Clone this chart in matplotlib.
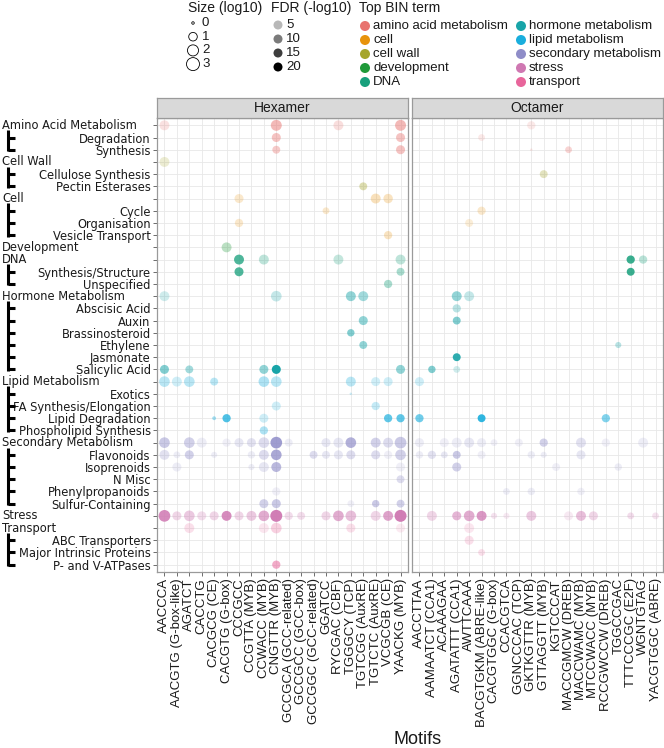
import matplotlib
matplotlib.use('Agg')
import matplotlib.pyplot as plt
import numpy as np
from matplotlib.lines import Line2D

terms = ["Amino Acid Metabolism", "Degradation", "Synthesis",
         "Cell Wall", "Cellulose Synthesis", "Pectin Esterases",
         "Cell", "Cycle", "Organisation", "Vesicle Transport",
         "Development",
         "DNA", "Synthesis/Structure", "Unspecified",
         "Hormone Metabolism", "Abscisic Acid", "Auxin", "Brassinosteroid",
         "Ethylene", "Jasmonate", "Salicylic Acid",
         "Lipid Metabolism", "Exotics", "FA Synthesis/Elongation",
         "Lipid Degradation", "Phospholipid Synthesis",
         "Secondary Metabolism", "Flavonoids", "Isoprenoids", "N Misc",
         "Phenylpropanoids", "Sulfur-Containing",
         "Stress",
         "Transport", "ABC Transporters", "Major Intrinsic Proteins",
         "P- and V-ATPases"]

# rows that are top level BIN terms, and the BIN they colour
parent_rows = [0, 3, 6, 10, 11, 14, 21, 26, 32, 33]
parent_bins = ["amino acid metabolism", "cell wall", "cell", "development", "DNA",
               "hormone metabolism", "lipid metabolism", "secondary metabolism",
               "stress", "transport"]

hexamer_motifs = ["AACCCA", "AACGTG (G-box-like)", "AGATCT", "CACCTG", "CACGCG (CE)",
                  "CACGTG (G-box)", "CCCGCC", "CCGTTA (MYB)", "CCWACC (MYB)",
                  "CNGTTR (MYB)", "GCCGCA (GCC-related)", "GCCGCC (GCC-box)",
                  "GCCGGC (GCC-related)", "GGATCC", "RYCGAC (CBF)", "TGGGCY (TCP)",
                  "TGTCGG (AuxRE)", "TGTCTC (AuxRE)", "VCGCGB (CE)", "YAACKG (MYB)"]

octamer_motifs = ["AACCTTAA", "AAMAATCT (CCA1)", "ACAAAGAA", "AGATATTT (CCA1)",
                  "AWTTCAAA", "BACGTGKM (ABRE-like)", "CACGTGGC (G-box)", "CCACGTCA",
                  "GGNCCCAC (TCP)", "GKTKGTTR (MYB)", "GTTAGGTT (MYB)", "KGTCCCAT",
                  "MACCGMCW (DREB)", "MACCWAMC (MYB)", "MTCCWACC (MYB)",
                  "RCCGWCCW (DREB)", "TGGCCGAC", "TTTCCCGC (E2F)", "WGNTGTAG",
                  "YACGTGGC (ABRE)"]

bin_terms = ["amino acid metabolism", "cell", "cell wall", "development", "DNA",
             "hormone metabolism", "lipid metabolism", "secondary metabolism",
             "stress", "transport"]
bin_colors = ["#E8736F", "#E8930C", "#A5A52B", "#1F9A3A", "#18A07C",
              "#18A4A8", "#19AEDD", "#8F8DC8", "#CF78B2", "#E8659B"]

# (term row, motif index, size log10, FDR -log10)
hexamer_points = [
    (0, 0, 1.5, 3.5), (0, 9, 1.95, 9.5), (0, 14, 1.5, 4), (0, 19, 1.95, 9.5),
    (1, 9, 1.15, 8), (1, 19, 1.15, 8),
    (2, 9, 0.8, 7), (2, 19, 1.15, 8),
    (3, 0, 1.5, 3.5),
    (5, 16, 0.8, 7),
    (6, 6, 1.15, 3.5), (6, 17, 1.5, 5), (6, 18, 1.3, 4.5),
    (7, 13, 0.5, 3.5),
    (8, 6, 0.9, 3.5),
    (9, 18, 0.9, 4.5),
    (10, 5, 1.5, 5.5),
    (11, 6, 1.5, 15), (11, 8, 1.5, 5), (11, 14, 1.5, 4.5), (11, 19, 1.5, 5),
    (12, 6, 1.15, 15), (12, 19, 0.8, 7),
    (13, 18, 0.9, 7),
    (14, 0, 1.5, 3.5), (14, 9, 1.8, 4.5), (14, 15, 1.5, 9), (14, 16, 1.5, 7.5),
    (16, 16, 1.15, 9), (17, 15, 0.65, 10.5), (18, 16, 0.8, 9),
    (20, 0, 1.15, 10.5), (20, 2, 0.8, 7.5), (20, 8, 1.15, 9), (20, 9, 1.15, 20),
    (20, 19, 1.15, 9),
    (21, 0, 1.8, 5.5), (21, 1, 1.5, 3.5), (21, 2, 1.8, 5.5), (21, 4, 0.8, 5.5),
    (21, 8, 1.8, 6.5), (21, 9, 1.8, 5.5), (21, 15, 1.5, 5.5), (21, 17, 1.15, 3.5),
    (21, 18, 1.15, 3.5),
    (22, 15, 0.0, 3.5),
    (23, 9, 1.15, 3.5), (23, 17, 0.9, 4.5),
    (24, 4, 0.05, 7.5), (24, 5, 0.9, 15), (24, 8, 1.15, 3.5), (24, 18, 0.9, 13.5),
    (24, 19, 0.9, 13.5),
    (25, 8, 0.9, 6.5),
    (26, 0, 1.8, 9), (26, 2, 1.8, 7.5), (26, 3, 1.5, 2.5), (26, 5, 0.9, 2),
    (26, 6, 1.15, 3.5), (26, 7, 1.15, 4.5), (26, 8, 1.8, 5.5), (26, 9, 2.3, 17),
    (26, 10, 0.8, 2.5), (26, 13, 1.15, 3.5), (26, 14, 1.5, 3.5), (26, 15, 1.8, 13.5),
    (26, 17, 1.5, 7.5), (26, 18, 1.5, 5.5), (26, 19, 2.3, 9),
    (27, 0, 1.5, 4.5), (27, 1, 0.5, 2.5), (27, 2, 1.15, 7.5), (27, 4, 0.35, 2.5),
    (27, 7, 0.65, 2.5), (27, 8, 1.5, 5.5), (27, 9, 1.8, 15), (27, 12, 0.8, 5.5),
    (27, 13, 0.8, 3.5), (27, 14, 1.15, 3.5), (27, 15, 1.15, 5.5), (27, 17, 1.15, 5.5),
    (27, 18, 0.9, 2), (27, 19, 1.8, 7.5),
    (28, 1, 1.15, 2.5), (28, 7, 0.35, 2.5), (28, 8, 1.5, 3.5), (28, 9, 1.5, 12),
    (28, 19, 1.15, 2),
    (29, 19, 0.8, 5.5),
    (30, 9, 0.9, 2),
    (31, 8, 1.15, 7.5), (31, 9, 1.15, 9), (31, 15, 0.5, 2), (31, 17, 0.65, 9),
    (31, 19, 0.8, 7.5),
    (32, 0, 2.3, 17), (32, 1, 1.15, 5.5), (32, 2, 1.8, 7.5), (32, 3, 1.15, 4.5),
    (32, 4, 1.15, 5.5), (32, 5, 1.5, 17), (32, 6, 1.15, 5.5), (32, 7, 1.5, 7.5),
    (32, 8, 1.8, 12), (32, 9, 2.45, 19), (32, 10, 0.9, 4.5), (32, 11, 0.8, 4.5),
    (32, 13, 1.15, 5.5), (32, 14, 1.8, 12), (32, 15, 1.8, 9), (32, 17, 1.5, 5.5),
    (32, 18, 1.5, 13.5), (32, 19, 2.45, 19),
    (33, 2, 1.5, 3.5), (33, 8, 1.5, 2.5), (33, 9, 1.8, 5.5), (33, 15, 1.15, 3.5),
    (33, 19, 1.15, 2),
    (36, 9, 0.9, 10.5),
]

octamer_points = [
    (0, 9, 0.9, 2.5), (1, 5, 0.5, 2.5), (2, 9, 0.0, 2.5), (2, 12, 0.5, 5.5),
    (4, 10, 0.8, 5.5), (7, 5, 0.9, 3.5), (8, 4, 0.8, 2.5),
    (11, 17, 0.9, 17), (11, 18, 0.9, 5.5), (12, 17, 0.8, 17),
    (14, 3, 1.5, 9), (14, 4, 1.5, 4.5), (15, 3, 0.9, 5.5), (16, 3, 0.8, 10.5),
    (18, 16, 0.35, 5.5), (19, 3, 0.8, 18), (20, 1, 0.65, 10.5), (20, 3, 0.5, 3.5),
    (21, 0, 1.15, 3.5),
    (24, 0, 0.9, 12), (24, 5, 0.8, 18), (24, 15, 0.9, 10.5),
    (26, 0, 1.15, 2.5), (26, 2, 1.15, 2), (26, 3, 1.5, 2.5), (26, 4, 1.5, 3.5),
    (26, 5, 1.15, 2.5), (26, 6, 0.5, 2), (26, 8, 0.8, 2), (26, 10, 0.9, 7.5),
    (26, 13, 1.5, 4.5), (26, 15, 0.9, 2), (26, 18, 1.5, 2.5),
    (27, 0, 0.65, 2.5), (27, 1, 0.9, 4.5), (27, 2, 0.5, 3.5), (27, 3, 0.8, 9),
    (27, 5, 0.8, 2), (27, 9, 0.65, 2.5), (27, 10, 0.35, 2.5), (27, 13, 1.15, 3.5),
    (28, 3, 1.15, 7.5), (28, 11, 0.8, 2), (28, 16, 0.65, 2.5),
    (30, 7, 0.5, 2.5), (30, 9, 0.65, 2.5), (30, 13, 0.65, 2),
    (32, 1, 1.5, 5.5), (32, 3, 1.15, 10.5), (32, 4, 1.8, 12), (32, 5, 1.5, 15),
    (32, 6, 0.35, 3.5), (32, 7, 0.35, 2.5), (32, 9, 1.5, 7.5), (32, 12, 1.15, 2.5),
    (32, 13, 1.5, 9), (32, 14, 1.15, 5.5), (32, 17, 0.5, 4.5), (32, 19, 0.5, 3.5),
    (33, 4, 1.5, 2.5), (34, 4, 1.15, 3.5), (35, 5, 0.5, 3.5),
]

size_breaks = [0, 1, 2, 3]
fdr_breaks = [5, 10, 15, 20]

W, H = 664, 748
SANS = 'Liberation Sans'
TXT = '#1a1a1a'


def diam_px(v):
    return 2.5 + 10.5 * np.sqrt(np.asarray(v) / 3.0)


def marker_area(v):
    return (diam_px(v) * 0.72) ** 2


def alpha_of(f):
    return np.clip(0.1 + 0.9 * (np.asarray(f) - 1.3) / (20 - 1.3), 0.1, 1.0)


color_of = dict(zip(bin_terms, bin_colors))
row_bin = []
current = None
for i in range(len(terms)):
    if i in parent_rows:
        current = parent_bins[parent_rows.index(i)]
    row_bin.append(current)

fig = plt.figure(figsize=(W / 100, H / 100), dpi=100)


def px_axes(x0, y0, x1, y1, **kw):
    return fig.add_axes([x0 / W, 1 - y1 / H, (x1 - x0) / W, (y1 - y0) / H], **kw)


def draw_panel(ax, motifs, points, title, strip_box):
    ax.set_xlim(-0.6, len(motifs) - 0.4)
    ax.set_ylim(len(terms) - 0.4, -0.6)
    ax.set_axisbelow(True)
    ax.grid(True, color='#e8e8e8', lw=0.6)
    rows = [p[0] for p in points]
    cols = [p[1] for p in points]
    sizes = [p[2] for p in points]
    fdrs = [p[3] for p in points]
    rgba = [matplotlib.colors.to_rgba(color_of[row_bin[r]], float(alpha_of(f)))
            for r, f in zip(rows, fdrs)]
    ax.scatter(cols, rows, s=marker_area(sizes), c=rgba, edgecolors='none', zorder=3)
    ax.set_xticks(range(len(motifs)))
    ax.set_xticklabels(motifs, rotation=90, fontsize=9.5, family=SANS, color=TXT)
    ax.set_yticks(range(len(terms)))
    ax.tick_params(axis='both', length=3, color='#555555', width=0.6, pad=1.5)
    for s in ax.spines.values():
        s.set_color('#9a9a9a')
        s.set_linewidth(0.9)
    sax = px_axes(*strip_box, facecolor='#d9d9d9')
    sax.set_xticks([])
    sax.set_yticks([])
    for s in sax.spines.values():
        s.set_color('#9a9a9a')
        s.set_linewidth(0.9)
    sax.text(0.5, 0.5, title, ha='center', va='center', fontsize=10, family=SANS,
             color=TXT, transform=sax.transAxes)


ax_hex = px_axes(157, 118, 408, 572)
ax_oct = px_axes(412, 118, 663, 572)
draw_panel(ax_hex, hexamer_motifs, hexamer_points, 'Hexamer', (157, 98, 408, 118))
draw_panel(ax_oct, octamer_motifs, octamer_points, 'Octamer', (412, 98, 663, 118))
ax_oct.tick_params(axis='y', left=False, labelleft=False)

# y labels: children right aligned at the ticks, top level terms on the left
ax_hex.set_yticklabels(['' if i in parent_rows else t for i, t in enumerate(terms)],
                       fontsize=8.3, family='DejaVu Sans', color=TXT)
ytr = ax_hex.get_yaxis_transform()


def ax_x(px):
    return (px - 157) / 251.0


for r in parent_rows:
    ax_hex.text(ax_x(2), r, terms[r], transform=ytr, ha='left', va='center',
                fontsize=8.3, family='DejaVu Sans', color=TXT, clip_on=False)

# bracket tree for the sub-terms
bounds = parent_rows + [len(terms)]
for k, r in enumerate(parent_rows):
    children = list(range(r + 1, bounds[k + 1]))
    if not children:
        continue
    ax_hex.add_line(Line2D([ax_x(8), ax_x(8)], [r + 0.4, children[-1] + 0.12],
                           transform=ytr, color='black', lw=2.2, clip_on=False,
                           solid_capstyle='butt'))
    for c in children:
        ax_hex.add_line(Line2D([ax_x(8), ax_x(14.5)], [c, c], transform=ytr,
                               color='black', lw=2.2, clip_on=False,
                               solid_capstyle='butt'))

fig.text(418 / W, 1 - 739 / H, 'Motifs', ha='center', va='center', fontsize=13,
         family=SANS, color=TXT)

# legends, drawn in pixel space
leg = fig.add_axes([0, 0, 1, 1], facecolor='none')
leg.set_xlim(0, W)
leg.set_ylim(H, 0)
leg.axis('off')
leg.text(188, 8, 'Size (log10)', ha='left', va='center', fontsize=10, family=SANS, color=TXT)
leg.text(271, 8, 'FDR (-log10)', ha='left', va='center', fontsize=10, family=SANS, color=TXT)
leg.text(359, 8, 'Top BIN term', ha='left', va='center', fontsize=10, family=SANS, color=TXT)

for i, v in enumerate(size_breaks):
    y = 23 + 13.7 * i
    leg.scatter([193], [y], s=marker_area(v), facecolors='none', edgecolors='black', lw=0.6)
    leg.text(202, y, str(v), ha='left', va='center', fontsize=9.5, family=SANS, color=TXT)

for i, f in enumerate(fdr_breaks):
    y = 25 + 14 * i
    leg.scatter([278], [y], s=(9 * 0.72) ** 2, color='black', alpha=float(alpha_of(f)),
                edgecolors='none')
    leg.text(286, y, str(f), ha='left', va='center', fontsize=9.5, family=SANS, color=TXT)

for i, (t, c) in enumerate(zip(bin_terms, bin_colors)):
    col, rr = divmod(i, 5)
    x = 365 + 156 * col
    y = 26 + 14 * rr
    leg.scatter([x], [y], s=(10 * 0.72) ** 2, color=c, edgecolors='none')
    leg.text(x + 8, y, t, ha='left', va='center', fontsize=9.5, family=SANS, color=TXT)

fig.savefig('out.png', dpi=100)
